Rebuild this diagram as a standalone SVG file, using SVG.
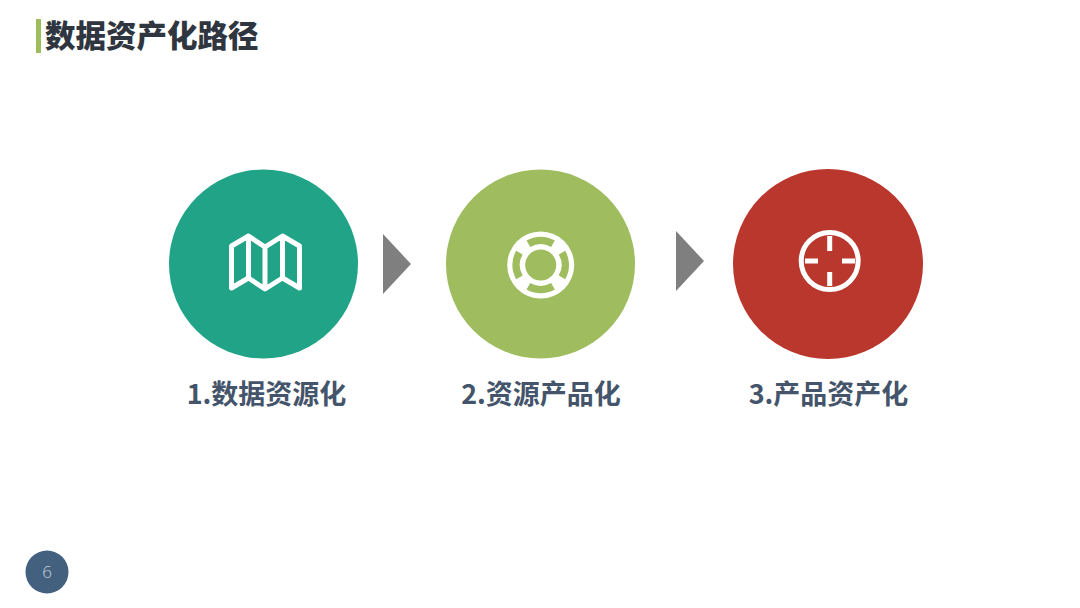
<svg xmlns="http://www.w3.org/2000/svg" width="1080" height="608" viewBox="0 0 1080 608">
<style>
.cjk{font-family:"Noto Sans CJK SC","Noto Sans",sans-serif;font-weight:700}
.label{font-size:27px;fill:#44546a;text-anchor:middle}
.ico{fill:none;stroke:#fff;stroke-linejoin:round}
.tri{fill:#7f7f7f}
</style>
<rect width="1080" height="608" fill="#fff"/>
<g id="title">
<rect x="36" y="19" width="5" height="34" fill="#9dbd5f"/>
<text class="cjk" x="45" y="47" font-size="30.500" style="font-weight:900" fill="#2f3640">数据资产化路径</text>
</g>
<g id="connectors">
<polygon class="tri" points="383,234 411,264 383,294"/>
<polygon class="tri" points="676,231 704,261 676,291"/>
</g>
<g id="node1">
<circle cx="263.500" cy="264" r="94.500" fill="#20a386"/>
<path class="ico" stroke-width="5" d="M231.500 246 L248.500 236 L265 247 L282.500 236 L299.500 246 V288 L282.500 278 L265 289 L248.500 278 L231.500 288 Z M248.500 236 V278 M265 247 V289 M282.500 236 V278"/>
<text class="cjk label" x="266.500" y="404">1.数据资源化</text>
</g>
<g id="node2">
<circle cx="540.500" cy="264" r="94.500" fill="#9fbd5f"/>
<circle cx="540.700" cy="265" r="33.500" fill="#fff"/>
<circle cx="540.700" cy="265" r="15.500" fill="#9fbd5f"/>
<g fill="none" stroke="#9fbd5f" stroke-width="7.500">
<path d="M528.400 243.700 A24.500 24.500 0 0 1 553 243.700"/>
<path d="M562 252.700 A24.500 24.500 0 0 1 562 277.300"/>
<path d="M553 286.300 A24.500 24.500 0 0 1 528.400 286.300"/>
<path d="M519.400 277.300 A24.500 24.500 0 0 1 519.400 252.700"/>
</g>
<text class="cjk label" x="541" y="404">2.资源产品化</text>
</g>
<g id="node3">
<circle cx="828" cy="264" r="95" fill="#b9372c"/>
<circle class="ico" cx="829.700" cy="261" r="28.500" stroke-width="5"/>
<path class="ico" stroke-width="5" d="M829.700 236 V251 M829.700 272 V286 M805 261 H818 M842 261 H855"/>
<text class="cjk label" x="828.500" y="404">3.产品资产化</text>
</g>
<g id="page">
<circle cx="47" cy="572" r="21.500" fill="#44607f"/>
<text x="47" y="577.500" font-size="17" text-anchor="middle" fill="#c5d0dc" font-family="'Open Sans','Liberation Sans',sans-serif" font-weight="300">6</text>
</g>
</svg>
